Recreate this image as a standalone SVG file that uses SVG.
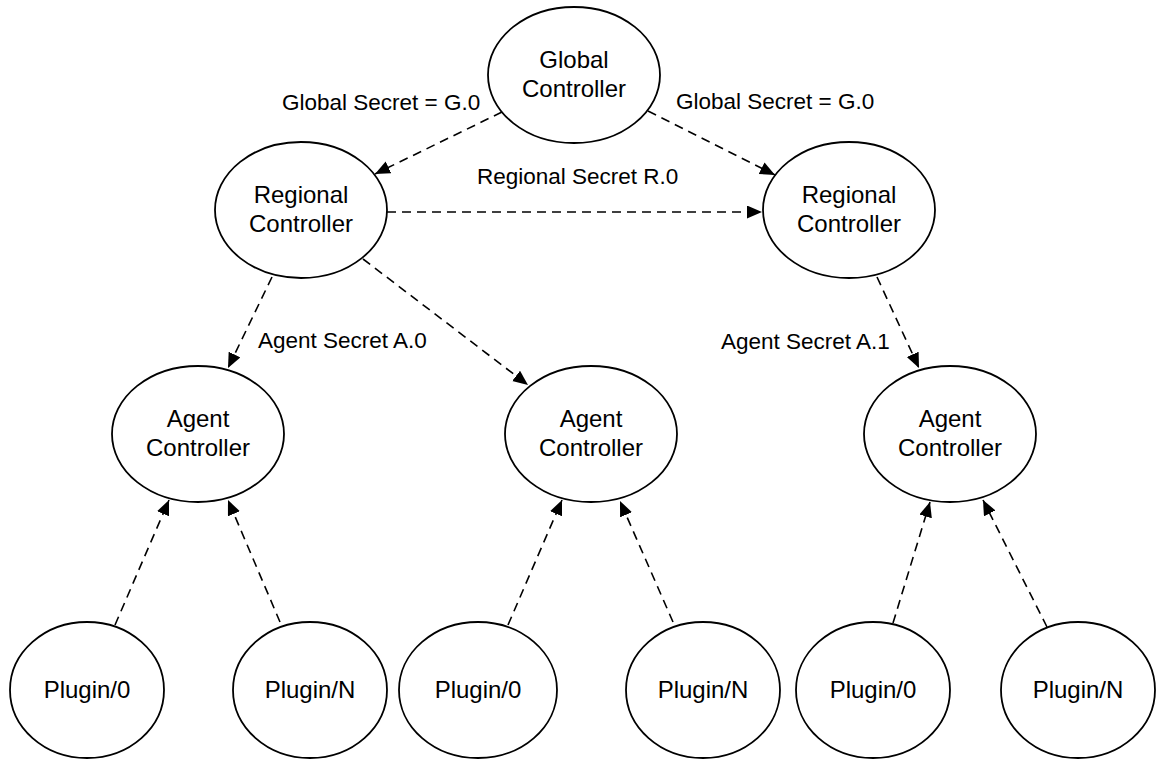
<svg xmlns="http://www.w3.org/2000/svg" width="1156" height="761" viewBox="0 0 1156 761">
  <style>
    .node ellipse { fill: #ffffff; stroke: #000000; stroke-width: 1.8; }
    .node text { font-family: "Liberation Sans", Arial, Helvetica, sans-serif; font-size: 24px; fill: #000000; text-anchor: middle; }
    .edge { fill: none; stroke: #000000; stroke-width: 1.6; stroke-dasharray: 9 6; }
    .label { font-family: "Liberation Sans", Arial, Helvetica, sans-serif; font-size: 22.5px; fill: #000000; }
  </style>
  <defs>
    <marker id="arrow" markerUnits="userSpaceOnUse" markerWidth="16" markerHeight="14" refX="15" refY="6.5" orient="auto">
      <path d="M0,0 L15,6.5 L0,13 Z" fill="#000000"/>
    </marker>
  </defs>
  <rect width="1156" height="761" fill="#ffffff"/>

  <!-- connectors -->
  <g id="connectors">
    <line class="edge" x1="502" y1="112" x2="375" y2="174" marker-end="url(#arrow)"/>
    <line class="edge" x1="648" y1="111" x2="775" y2="175" marker-end="url(#arrow)"/>
    <line class="edge" x1="387" y1="212" x2="762" y2="212" marker-end="url(#arrow)"/>
    <line class="edge" x1="272" y1="277" x2="228" y2="368" marker-end="url(#arrow)"/>
    <line class="edge" x1="363" y1="259" x2="528" y2="385" marker-end="url(#arrow)"/>
    <line class="edge" x1="877" y1="277" x2="919" y2="368" marker-end="url(#arrow)"/>
    <line class="edge" x1="115" y1="625" x2="169" y2="500" marker-end="url(#arrow)"/>
    <line class="edge" x1="280" y1="622" x2="228" y2="500" marker-end="url(#arrow)"/>
    <line class="edge" x1="508" y1="625" x2="562" y2="500" marker-end="url(#arrow)"/>
    <line class="edge" x1="673" y1="622" x2="620" y2="501" marker-end="url(#arrow)"/>
    <line class="edge" x1="893" y1="623" x2="930" y2="502" marker-end="url(#arrow)"/>
    <line class="edge" x1="1047" y1="627" x2="983" y2="500" marker-end="url(#arrow)"/>
  </g>

  <!-- connector labels -->
  <g id="labels">
    <text class="label" x="282" y="110">Global Secret = G.0</text>
    <text class="label" x="676" y="109">Global Secret = G.0</text>
    <text class="label" x="477" y="184">Regional Secret R.0</text>
    <text class="label" x="258" y="348">Agent Secret A.0</text>
    <text class="label" x="721" y="349">Agent Secret A.1</text>
  </g>

  <g id="global-controller" class="node">
    <ellipse cx="574" cy="75" rx="86" ry="68"/>
    <text x="574" y="68">Global</text>
    <text x="574" y="97">Controller</text>
  </g>

  <g id="regional-controller-1" class="node">
    <ellipse cx="301" cy="210" rx="86" ry="68"/>
    <text x="301" y="203">Regional</text>
    <text x="301" y="232">Controller</text>
  </g>

  <g id="regional-controller-2" class="node">
    <ellipse cx="849" cy="210" rx="86" ry="68"/>
    <text x="849" y="203">Regional</text>
    <text x="849" y="232">Controller</text>
  </g>

  <g id="agent-controller-1" class="node">
    <ellipse cx="198" cy="434" rx="86" ry="68"/>
    <text x="198" y="427">Agent</text>
    <text x="198" y="456">Controller</text>
  </g>

  <g id="agent-controller-2" class="node">
    <ellipse cx="591" cy="434" rx="86" ry="68"/>
    <text x="591" y="427">Agent</text>
    <text x="591" y="456">Controller</text>
  </g>

  <g id="agent-controller-3" class="node">
    <ellipse cx="950" cy="434" rx="86" ry="68"/>
    <text x="950" y="427">Agent</text>
    <text x="950" y="456">Controller</text>
  </g>

  <g id="plugin-1-0" class="node">
    <ellipse cx="87" cy="690" rx="77" ry="68"/>
    <text x="87" y="698">Plugin/0</text>
  </g>

  <g id="plugin-1-n" class="node">
    <ellipse cx="310" cy="690" rx="77" ry="68"/>
    <text x="310" y="698">Plugin/N</text>
  </g>

  <g id="plugin-2-0" class="node">
    <ellipse cx="478" cy="690" rx="79" ry="68"/>
    <text x="478" y="698">Plugin/0</text>
  </g>

  <g id="plugin-2-n" class="node">
    <ellipse cx="703" cy="690" rx="77" ry="68"/>
    <text x="703" y="698">Plugin/N</text>
  </g>

  <g id="plugin-3-0" class="node">
    <ellipse cx="873" cy="690" rx="77" ry="68"/>
    <text x="873" y="698">Plugin/0</text>
  </g>

  <g id="plugin-3-n" class="node">
    <ellipse cx="1078" cy="690" rx="77" ry="68"/>
    <text x="1078" y="698">Plugin/N</text>
  </g>
</svg>
